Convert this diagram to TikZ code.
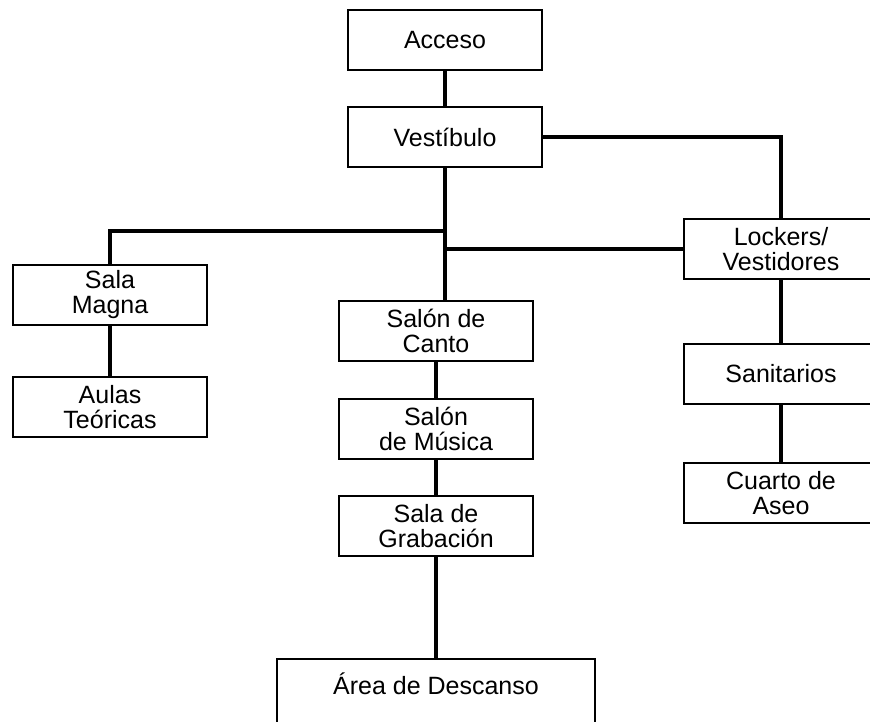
\documentclass[tikz,border=0pt]{standalone}
\usepackage{fontspec}
\setmainfont{Liberation Sans}
\usetikzlibrary{positioning}

\begin{document}
\begin{tikzpicture}[
    every node/.style={draw, rectangle, line width=1pt, minimum width=97pt, minimum height=30pt, inner sep=2pt, align=center, font=\fontsize{12.5}{12.5}\selectfont},
    link/.style={line width=2pt}
]
\useasboundingbox (-222.5pt,20pt) rectangle (212.5pt,-340.5pt);
\clip (-222.5pt,20pt) rectangle (212.5pt,-340.5pt);

% Nodes
\node (acceso) {Acceso};
\node[below=17.5pt of acceso] (vest) {Vestíbulo};
\coordinate[below=31.5pt of vest] (split);
\node[below=66pt of vest, xshift=-4.5pt] (canto) {Salón de\\Canto};
\node[below=18pt of canto] (musica) {Salón\\de Música};
\node[below=17.5pt of musica] (grab) {Sala de\\Grabación};
\node[below=50.5pt of grab, minimum width=159pt, minimum height=0pt, inner ysep=7pt, text depth=10pt] (area) {Área de Descanso};
\node[below left=48pt and 69.5pt of vest] (magna) {Sala\\Magna};
\node[below=25pt of magna] (aulas) {Aulas\\Teóricas};
\node[below right=25pt and 70pt of vest] (lockers) {Lockers/\\Vestidores};
\node[below=31.5pt of lockers] (sanit) {Sanitarios};
\node[below=28.5pt of sanit] (cuarto) {Cuarto de\\Aseo};

% Lines
\draw[link] (acceso) -- (vest);
\draw[link] (vest) -- (canto.north -| vest);
\draw[link] (split) -| (magna);
\draw[link] (lockers) -- (lockers.west -| vest);
\draw[link] (vest) -| (lockers);
\draw[link] (magna) -- (aulas);
\draw[link] (canto) -- (musica);
\draw[link] (musica) -- (grab);
\draw[link] (grab) -- (area);
\draw[link] (lockers) -- (sanit);
\draw[link] (sanit) -- (cuarto);

\end{tikzpicture}
\end{document}
